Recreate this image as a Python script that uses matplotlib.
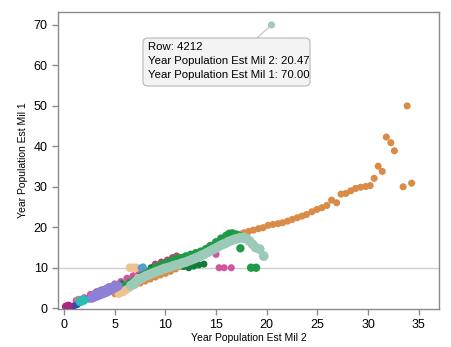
import matplotlib
matplotlib.use("Agg")
import matplotlib.pyplot as plt
from matplotlib.patches import FancyBboxPatch
from matplotlib.lines import Line2D

plt.rcParams['font.family'] = ['Liberation Sans', 'DejaVu Sans']

# ---------------- data ----------------
orange_x = [5.0, 5.5, 6.0, 6.5, 7.0, 7.5, 8.0, 8.5, 9.0, 9.5, 10.0, 10.5, 11.0, 11.5, 12.0, 12.5,
            13.0, 13.5, 14.0, 14.5, 15.0, 15.5, 16.0, 16.5, 17.0, 17.4,
            17.77, 18.22, 18.69, 19.18, 19.64, 20.13, 20.62, 21.11, 21.57, 22.06, 22.52, 23.01,
            23.48, 23.93, 24.46, 24.95, 25.44, 25.93, 26.4, 26.9, 27.33, 27.8, 28.29, 28.78,
            29.27, 29.76, 30.2, 30.6, 31.0, 31.4, 31.8, 32.25, 32.6, 33.46, 33.86, 34.3]
orange_y = [3.6, 4.1, 4.6, 5.2, 5.7, 6.2, 6.7, 7.2, 7.7, 8.2, 8.6, 9.1, 9.7, 10.3, 10.8, 11.4,
            12.0, 12.7, 13.4, 14.2, 15.0, 15.8, 16.6, 17.3, 17.9, 18.3,
            18.66, 18.98, 19.3, 19.64, 19.89, 20.46, 20.7, 20.88, 21.12, 21.52, 21.94, 22.36,
            22.75, 23.17, 23.83, 24.4, 24.82, 25.39, 26.7, 26.05, 28.2, 28.35, 29.0, 29.6,
            29.9, 30.07, 30.3, 32.1, 35.1, 33.8, 42.3, 40.9, 38.9, 30.0, 50.0, 30.9]

pink_x = [1.2, 2.0, 2.6, 3.2, 3.8, 4.4, 5.0, 5.6, 6.2, 6.8, 7.4, 8.0, 8.6, 9.2, 9.8,
          14.35, 15.0, 15.3, 15.8, 16.5]
pink_y = [1.9, 2.6, 3.4, 4.0, 4.6, 5.3, 6.0, 6.6, 7.4, 8.0, 8.6, 9.3, 9.9, 10.5, 11.1,
          15.4, 13.3, 10.0, 10.0, 10.0]

maroon_x = [3.2, 3.6, 9.0, 9.6, 10.2, 10.7, 11.1]
maroon_y = [4.0, 4.4, 10.9, 11.4, 11.9, 12.5, 12.9]

darkgreen_x = [2.4, 5.3, 5.7, 8.6, 8.8, 9.3, 9.8, 10.3, 10.8, 11.3, 11.8, 12.3, 12.8, 13.3, 13.8]
darkgreen_y = [2.3, 5.6, 6.0, 10.0, 9.6, 9.9, 10.1, 10.3, 10.4, 10.6, 10.3, 10.0, 10.4, 10.7, 10.9]

green_x = [5.5, 6.0, 6.5, 7.0, 7.5, 8.0, 8.5, 9.0, 9.5, 10.0, 10.5, 11.0, 11.5, 12.0, 12.5,
           13.0, 13.5, 14.0, 14.5, 15.0, 15.5, 16.0, 16.3, 16.6, 17.0, 17.4, 17.8,
           17.4, 18.45, 18.95]
green_y = [5.0, 5.6, 6.3, 7.0, 7.8, 8.5, 9.2, 9.9, 10.5, 11.0, 11.5, 12.0, 12.4, 12.8, 13.2,
           13.6, 14.0, 14.6, 15.4, 16.3, 17.2, 17.9, 18.4, 18.5, 18.2, 17.8, 17.2,
           14.8, 10.0, 10.0]

beige_x = [5.4, 5.8, 6.1, 6.4, 6.7, 6.9, 7.1, 7.3, 6.5, 6.8, 7.1]
beige_y = [3.6, 4.0, 4.5, 5.0, 5.6, 6.2, 6.8, 7.4, 10.0, 10.0, 10.0]

blue_x = [7.6, 7.8]
blue_y = [10.0, 10.2]

teal_x = [6.6, 6.9, 7.2, 7.5, 7.8, 8.1, 8.4, 8.7, 9.0, 9.3, 9.6, 9.9, 10.2, 10.5, 10.8,
          11.1, 11.4, 11.7, 12.0, 12.3, 12.6, 12.9, 13.2, 13.5, 13.8, 14.1, 14.4, 14.7,
          15.0, 15.3, 15.6, 15.9, 16.2, 16.5, 16.8, 17.1, 17.4, 17.7, 18.0, 18.3, 18.6,
          18.9, 19.3, 19.7]
teal_y = [5.6, 6.1, 6.7, 7.2, 7.6, 8.0, 8.3, 8.6, 8.9, 9.2, 9.5, 9.8, 10.0, 10.2, 10.5,
          10.7, 10.9, 11.2, 11.4, 11.7, 12.0, 12.3, 12.6, 13.0, 13.3, 13.7, 14.1, 14.5,
          14.9, 15.3, 15.7, 16.0, 16.4, 16.7, 17.0, 17.2, 17.4, 17.5, 17.2, 16.6, 15.8,
          15.0, 14.6, 12.9]
teal_outlier_x = [20.47]
teal_outlier_y = [70.0]

purple_x = [2.7, 3.0, 3.3, 3.6, 3.9, 4.2, 4.5, 4.8, 5.1, 5.3, 3.0, 3.4, 3.8, 4.2, 4.6, 5.0]
purple_y = [2.5, 2.8, 3.1, 3.4, 3.7, 4.0, 4.4, 4.8, 5.2, 5.5, 3.3, 3.7, 4.1, 4.6, 5.0, 5.5]

salmon_x = [1.4]
salmon_y = [2.2]

darkblue_x = [0.5, 0.7, 1.0, 1.3]
darkblue_y = [0.2, 0.4, 0.6, 0.9]

cyan_x = [1.6, 1.9]
cyan_y = [1.7, 2.0]

magenta_x = [0.2, 0.45]
magenta_y = [0.4, 0.6]

x_ticks = [0, 5, 10, 15, 20, 25, 30, 35]
y_ticks = [0, 10, 20, 30, 40, 50, 60, 70]
x_label = "Year Population Est Mil 2"
y_label = "Year Population Est Mil 1"
tooltip_lines = ["Row: 4212",
                 "Year Population Est Mil 2: 20.47",
                 "Year Population Est Mil 1: 70.00"]

# ---------------- figure ----------------
W, H = 452, 347
fig = plt.figure(figsize=(W / 100, H / 100), dpi=100)
ax = fig.add_axes([58 / W, 1 - 309 / H, (439 - 58) / W, (309 - 12) / H])

ax.set_xlim(-0.6, 37.0)
ax.set_ylim(-0.2, 73.2)

ax.axhline(10, color='#d0d0d0', lw=1.0, zorder=1)

s = 26
kw = dict(edgecolors='none', zorder=3)
ax.scatter(orange_x, orange_y, s=s, color='#d98b47', **kw)
ax.scatter(pink_x, pink_y, s=s, color='#d4559f', **kw)
ax.scatter(maroon_x, maroon_y, s=s, color='#9a5670', **kw)
ax.scatter(darkgreen_x, darkgreen_y, s=s, color='#117c3c', **kw)
ax.scatter(green_x, green_y, s=s + 10, color='#1f9b45', **kw)
ax.scatter(beige_x, beige_y, s=s + 12, color='#f0c28f', **kw)
ax.scatter(blue_x, blue_y, s=s, color='#4f9fd2', **kw)
ax.scatter(teal_x, teal_y, s=50, color='#9ccab9', **kw)
ax.scatter(teal_outlier_x, teal_outlier_y, s=s, color='#9ccab9', **kw)
ax.scatter(purple_x, purple_y, s=48, color='#8c80d8', **kw)
ax.scatter(salmon_x, salmon_y, s=s, color='#e27b6c', **kw)
ax.scatter(darkblue_x, darkblue_y, s=s, color='#3b4ba3', **kw)
ax.scatter(cyan_x, cyan_y, s=50, color='#2abdb5', **kw)
ax.scatter(magenta_x, magenta_y, s=s + 10, color='#a8297f', **kw)

ax.set_xticks(x_ticks)
ax.set_yticks(y_ticks)
for sp in ax.spines.values():
    sp.set_color('#8a8a8a')
    sp.set_linewidth(1.0)
ax.tick_params(colors='#8a8a8a', labelcolor='black', labelsize=9, length=4, width=1)
ax.set_xlabel(x_label, fontsize=7.5, labelpad=1)
ax.set_ylabel(y_label, fontsize=7.5, labelpad=4)

# tooltip
px2fx = lambda p: p / W
py2fy = lambda p: 1 - p / H
bx0, by0, bx1, by1 = 143, 38, 310, 86
box = FancyBboxPatch((px2fx(bx0), py2fy(by1)), (bx1 - bx0) / W, (by1 - by0) / H,
                     boxstyle="round,pad=0,rounding_size=0.012",
                     transform=fig.transFigure, facecolor='#f3f3f3',
                     edgecolor='#b8b8b8', lw=0.8, zorder=10)
fig.patches.append(box)
pt = ax.transData.transform((teal_outlier_x[0], teal_outlier_y[0]))
ptf = fig.transFigure.inverted().transform(pt)
fig.lines.append(Line2D([px2fx(257), ptf[0]], [py2fy(38), ptf[1]],
                        transform=fig.transFigure, color='#c4c4c4', lw=0.9, zorder=9))
for i, line in enumerate(tooltip_lines):
    fig.text(px2fx(148), py2fy(47 + 14.2 * i), line, fontsize=8.2, va='center',
             ha='left', color='black', zorder=11)

fig.savefig("out.png", dpi=100)
